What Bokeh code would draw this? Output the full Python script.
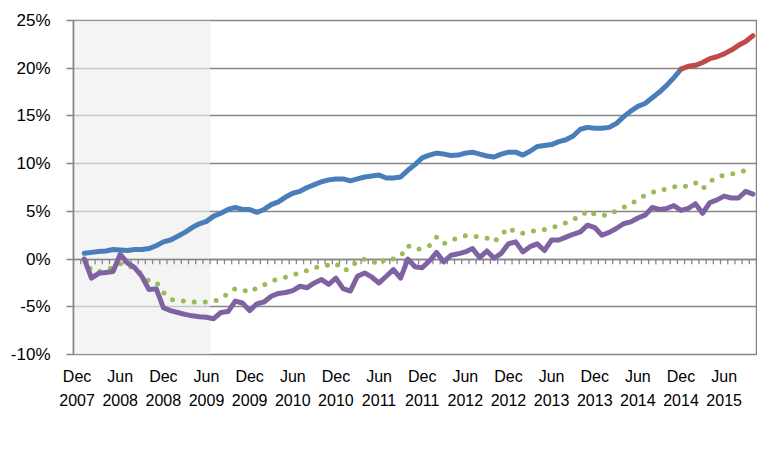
from bokeh.plotting import figure
from bokeh.models import FixedTicker, PrintfTickFormatter, Legend, LegendItem, Range1d, LinearAxis
from bokeh.embed import file_html
from bokeh.resources import INLINE

# ---- data (percent, monthly; month index 0 = Dec 2007) ----
tick_months = [0, 6, 12, 18, 24, 30, 36, 42, 48, 54, 60, 66, 72, 78, 84, 90]
tick_month_names = ["Dec", "Jun"] * 8
tick_years = ["2007", "2008", "2008", "2009", "2009", "2010", "2010", "2011",
              "2011", "2012", "2012", "2013", "2013", "2014", "2014", "2015"]
n_categories = 95  # Dec 2007 .. Oct 2015
recession_first_month = 0   # Dec 2007
recession_last_month = 18   # Jun 2009

hs_months = list(range(1, 85))
hs = [0.6, 0.7, 0.8, 0.85, 1.0, 0.95, 0.9, 1.0, 1.0, 1.1,
      1.4, 1.8, 2.0, 2.4, 2.8, 3.3, 3.7, 3.95, 4.5, 4.8,
      5.2, 5.4, 5.2, 5.2, 4.9, 5.2, 5.7, 6.0, 6.5, 6.9,
      7.1, 7.5, 7.8, 8.1, 8.3, 8.4, 8.4, 8.2, 8.4, 8.6,
      8.7, 8.8, 8.5, 8.5, 8.6, 9.3, 9.9, 10.6, 10.9, 11.1,
      11.0, 10.85, 10.9, 11.1, 11.2, 11.0, 10.8, 10.7, 11.0, 11.2,
      11.2, 10.9, 11.3, 11.8, 11.9, 12.0, 12.3, 12.5, 12.9, 13.6,
      13.8, 13.7, 13.7, 13.8, 14.2, 14.9, 15.5, 16.0, 16.3, 16.9,
      17.5, 18.2, 19.0, 19.9]

est_months = list(range(84, 95))
hs_estimate = [19.9, 20.2, 20.3, 20.6, 21.0, 21.2, 21.5, 21.9, 22.4, 22.8, 23.4]

all_months = list(range(1, 95))
gdp = [0.0, -1.2, -1.3, -1.1, -0.9, -0.5, -0.6, -1.0, -1.6, -2.3,
       -2.4, -3.5, -4.2, -4.4, -4.4, -4.5, -4.5, -4.5, -4.4, -4.2,
       -3.6, -3.1, -3.2, -3.5, -3.0, -2.7, -2.3, -2.1, -1.9, -1.6,
       -1.5, -1.2, -0.9, -0.8, -0.6, -0.45, -1.2, -1.0, -0.1, 0.0,
       -0.2, -0.6, 0.1, 0.0, 0.3, 1.4, 1.0, 1.1, 1.4, 2.3,
       1.6, 2.0, 2.2, 2.45, 2.4, 2.35, 2.2, 1.8, 2.5, 3.3,
       2.8, 2.7, 2.9, 3.0, 3.1, 3.3, 3.5, 3.8, 4.2, 4.4,
       5.1, 4.7, 4.6, 4.6, 5.1, 5.4, 5.8, 6.2, 6.7, 7.0,
       7.1, 7.4, 7.6, 7.5, 7.7, 8.0, 7.35, 8.1, 8.6, 8.8,
       8.9, 9.1, 9.3, 9.45]

gdp_minus_hs = [0.0, -2.0, -1.5, -1.4, -1.3, 0.5, -0.4, -0.9, -1.8, -3.2,
                -3.1, -5.1, -5.4, -5.6, -5.8, -5.95, -6.05, -6.1, -6.25, -5.6,
                -5.5, -4.4, -4.6, -5.4, -4.7, -4.5, -3.9, -3.6, -3.5, -3.3,
                -2.85, -3.0, -2.5, -2.15, -2.65, -2.0, -3.1, -3.35, -1.8, -1.45,
                -1.9, -2.5, -1.8, -1.1, -2.0, 0.0, -0.8, -0.9, -0.2, 0.7,
                -0.3, 0.4, 0.55, 0.75, 1.1, 0.15, 0.85, 0.1, 0.6, 1.6,
                1.8, 0.75, 1.3, 1.6, 0.9, 2.0, 2.0, 2.3, 2.6, 2.85,
                3.55, 3.3, 2.5, 2.8, 3.2, 3.7, 3.9, 4.3, 4.6, 5.4,
                5.2, 5.3, 5.6, 5.1, 5.3, 5.8, 4.8, 5.9, 6.2, 6.6,
                6.4, 6.4, 7.1, 6.8]

y_ticks = [-10, -5, 0, 5, 10, 15, 20, 25]

FONT = "Liberation Sans"
GRID = "#868686"

x_lo, x_hi = -0.5, n_categories - 0.5
p = figure(frame_width=683, frame_height=334, output_backend="svg", toolbar_location=None,
           x_range=Range1d(x_lo, x_hi), y_range=Range1d(y_ticks[0], y_ticks[-1]),
           min_border_left=73, min_border_right=1, min_border_top=20, min_border_bottom=0)
p.background_fill_color = "white"
p.border_fill_color = "white"
p.outline_line_color = GRID
p.outline_line_width = 1.5

# grid
p.xgrid.grid_line_color = None
p.ygrid.ticker = FixedTicker(ticks=y_ticks)
p.ygrid.grid_line_color = GRID
p.ygrid.grid_line_width = 1.5

# recession shading (over the grid, semi-transparent)
p.quad(left=[recession_first_month - 0.5], right=[recession_last_month + 0.5],
       bottom=[y_ticks[0]], top=[y_ticks[-1]], fill_color="#ededed", fill_alpha=0.62,
       line_color=None)

# horizontal category axis at 0% with monthly tick marks
p.hspan(y=[0], line_color=GRID, line_width=1.5)
bounds = [m + 0.5 for m in range(-1, n_categories)]
p.segment(x0=bounds, x1=bounds, y0=[0] * len(bounds), y1=[-0.55] * len(bounds),
          line_color=GRID, line_width=1.3)

# series
r_hs = p.line(hs_months, hs, line_color="#4a7ebb", line_width=5, line_join="round", line_cap="round")
r_est = p.line(est_months, hs_estimate, line_color="#be4b48", line_width=5, line_join="round", line_cap="round")
r_gdp = p.line(all_months, gdp, line_color="#9bbb59", line_width=5, line_dash="0 11", line_cap="round")
r_gmh = p.line(all_months, gdp_minus_hs, line_color="#7f62a1", line_width=5, line_join="round", line_cap="round")

# y axis
p.yaxis.ticker = FixedTicker(ticks=y_ticks)
p.yaxis.formatter = PrintfTickFormatter(format="%d%%")
p.yaxis.axis_line_color = GRID
p.yaxis.axis_line_width = 1.5
p.yaxis.major_tick_line_color = GRID
p.yaxis.major_tick_line_width = 1.5
p.yaxis.major_tick_out = 7
p.yaxis.major_tick_in = 0
p.yaxis.minor_tick_line_color = None
p.yaxis.major_label_text_font = FONT
p.yaxis.major_label_text_font_size = "17px"
p.yaxis.major_label_text_color = "black"
p.yaxis.major_label_standoff = 16


def style_x(ax, labels, standoff):
    ax.ticker = FixedTicker(ticks=tick_months)
    ax.major_label_overrides = dict(zip(tick_months, labels))
    ax.axis_line_color = None
    ax.major_tick_line_color = None
    ax.minor_tick_line_color = None
    ax.major_label_text_font = FONT
    ax.major_label_text_font_size = "16px"
    ax.major_label_text_color = "black"
    ax.major_label_standoff = standoff


# month-name row
style_x(p.xaxis[0], tick_month_names, 7)
# year row (second axis below)
year_axis = LinearAxis()
style_x(year_axis, tick_years, 0)
p.add_layout(year_axis, "below")

legend = Legend(items=[LegendItem(label="HS", renderers=[r_hs]),
                       LegendItem(label="HS Estimate", renderers=[r_est]),
                       LegendItem(label="GDP", renderers=[r_gdp]),
                       LegendItem(label="GDP Minus HS", renderers=[r_gmh])],
                orientation="horizontal", location="top_center",
                border_line_color=None, background_fill_alpha=0,
                label_text_font=FONT, label_text_font_size="17px",
                glyph_width=70, spacing=40, margin=13, padding=0,
                label_standoff=6)
p.add_layout(legend, "below")

open("out.html", "w").write(file_html(p, INLINE))
